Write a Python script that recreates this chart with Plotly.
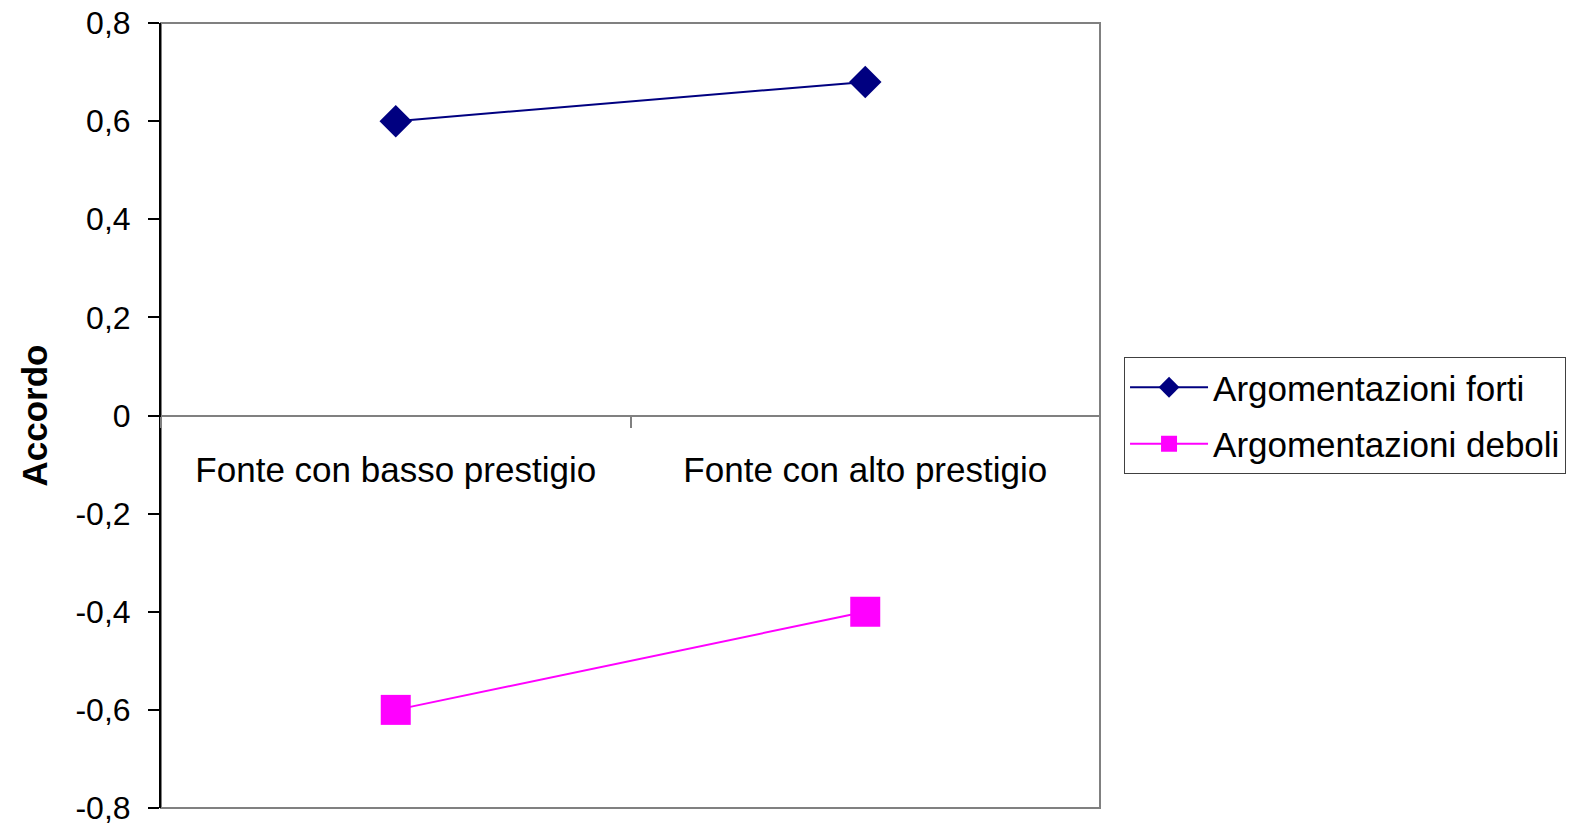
import plotly.graph_objects as go

# Source prestige conditions (x categories)
categorie = ["Fonte con basso prestigio", "Fonte con alto prestigio"]

# Mean agreement per argument strength
forti = [0.60, 0.68]
deboli = [-0.60, -0.40]

# Y axis ticks
y_tick_vals = [-0.8, -0.6, -0.4, -0.2, 0, 0.2, 0.4, 0.6, 0.8]
y_tick_text = ["-0,8", "-0,6", "-0,4", "-0,2", "0", "0,2", "0,4", "0,6", "0,8"]

FONT = "Liberation Sans, Arial, sans-serif"

fig = go.Figure()

fig.add_trace(go.Scatter(
    x=categorie, y=forti, name="Argomentazioni forti",
    mode="lines+markers", legendgroup="a",
    line=dict(color="#000080", width=2),
    marker=dict(symbol="diamond", size=25, color="#000080"),
))
fig.add_trace(go.Scatter(
    x=categorie, y=deboli, name="Argomentazioni deboli",
    mode="lines+markers", legendgroup="b",
    line=dict(color="#FF00FF", width=2),
    marker=dict(symbol="square", size=30, color="#FF00FF"),
))

# Plot-area frame
fig.add_shape(type="rect", xref="x domain", yref="y domain",
              x0=0, x1=1, y0=0, y1=1,
              line=dict(color="#808080", width=2), layer="below")

# Vertical axis title
fig.add_annotation(text="<b>Accordo</b>", xref="paper", yref="paper",
                   x=0, y=0.5, xanchor="center", yanchor="middle",
                   xshift=-127, textangle=-90, showarrow=False,
                   font=dict(family=FONT, size=35, color="black"))

fig.update_layout(
    width=1571, height=827,
    margin=dict(l=161, r=471, t=23, b=19, autoexpand=False),
    paper_bgcolor="white", plot_bgcolor="white",
    font=dict(family=FONT, color="black"),
    showlegend=True,
    legend=dict(
        x=1.0256, xanchor="left", y=0.5, yanchor="middle",
        bordercolor="#404040", borderwidth=1,
        font=dict(family=FONT, size=35, color="black"),
        traceorder="grouped", tracegroupgap=8,
        itemwidth=78,
    ),
    xaxis=dict(
        type="category", range=[-0.5, 1.5], automargin=False,
        anchor="free", position=0.5,
        showline=True, linecolor="#808080", linewidth=2,
        ticks="outside", tickson="boundaries", ticklen=11,
        tickcolor="#808080", tickwidth=2,
        showgrid=False, zeroline=False,
        tickfont=dict(family=FONT, size=35, color="black"),
        ticklabelstandoff=23,
    ),
    yaxis=dict(
        range=[-0.8, 0.8], domain=[0, 1], automargin=False,
        tickvals=y_tick_vals, ticktext=y_tick_text,
        showline=True, linecolor="black", linewidth=2,
        ticks="outside", ticklen=11, tickcolor="black", tickwidth=2,
        showgrid=False, zeroline=False,
        tickfont=dict(family=FONT, size=32, color="black"),
        ticklabelstandoff=11,
    ),
)

fig.write_html("out.html")
